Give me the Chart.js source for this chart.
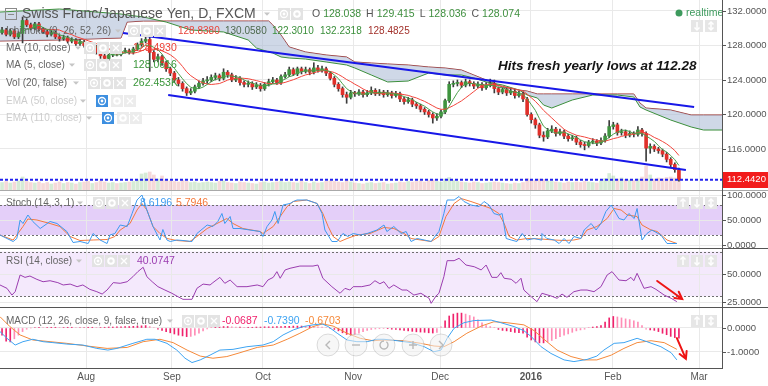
<!DOCTYPE html>
<html>
<head>
<meta charset="utf-8">
<script src="https://cdn.jsdelivr.net/npm/chart.js@4.4.1/dist/chart.umd.min.js"></script>
<style>
  html, body { margin: 0; padding: 0; background: #fff; }
  #wrap { position: relative; width: 768px; height: 386px; overflow: hidden; }
  #wrap canvas { position: absolute; left: 0; }
  .sep { position: absolute; left: 0; width: 768px; height: 1px; background: #555; }
</style>
</head>
<body>
<div id="wrap">
  <canvas id="c-main" width="768" height="190" style="top:0"></canvas>
  <canvas id="c-stoch" width="768" height="57" style="top:191px"></canvas>
  <canvas id="c-rsi" width="768" height="58" style="top:249px"></canvas>
  <canvas id="c-macd" width="768" height="78" style="top:308px"></canvas>
  <div class="sep" style="top:190px;background:#a9a9a9"></div>
  <div class="sep" style="top:248px"></div>
  <div class="sep" style="top:307px"></div>
  <div class="sep" style="top:368px;width:723px"></div>
  <div style="position:absolute;left:722px;top:0;width:1px;height:369px;background:#555"></div>
</div>
<script>
// CHF/JPY daily (FXCM), bar 0 = early July 2015, last bar = 23 Feb 2016
const monthTicks = [20.5, 41.4, 63.6, 85.6, 106.8, 128.9, 148.9, 169.9];
const monthLabels = ["Aug", "Sep", "Oct", "Nov", "Dec", "2016", "Feb", "Mar"];

const firstOpen = 129.5;
const closes = [
  129.8,129.3,129.7,129.0,129.4,130.9,130.4,130.0,130.5,129.9,
  129.6,129.3,129.5,129.0,128.8,128.9,128.5,128.6,128.2,128.4,
  128.0,127.6,127.9,127.2,126.8,126.5,126.9,127.2,127.0,127.3,
  127.4,127.2,127.6,128.1,128.5,128.7,127.2,126.4,126.7,126.0,
  125.3,124.8,124.0,123.6,123.0,122.5,122.7,123.2,123.6,123.9,
  124.0,124.3,124.5,124.2,124.9,124.6,124.0,124.2,123.7,123.5,
  123.6,123.2,123.4,123.0,123.5,123.8,124.0,123.7,124.4,124.6,
  125.2,124.7,125.3,125.0,125.2,124.9,125.4,125.1,125.3,124.8,
  124.2,123.5,123.0,122.3,122.0,122.5,122.4,122.6,122.3,122.5,
  122.8,122.4,122.6,122.3,122.5,122.2,122.4,121.8,121.5,121.7,
  121.2,121.0,120.6,120.3,120.0,119.6,119.8,120.3,121.6,123.5,
  123.6,123.7,123.4,123.8,123.6,123.3,123.5,123.1,123.4,123.6,
  123.0,122.6,122.9,122.5,122.7,122.2,122.4,121.8,120.0,119.4,
  118.8,117.6,117.4,118.1,118.3,117.8,118.0,117.5,117.2,117.3,
  116.8,116.5,116.4,116.8,116.9,116.7,117.0,117.5,118.6,118.8,
  117.9,118.0,117.6,117.8,117.7,118.2,117.8,116.1,116.3,116.0,
  115.8,115.4,114.8,114.2,113.6,112.442
];
const highs = [
  130.1,130.0,129.9,129.9,129.6,131.3,131.1,130.6,130.7,130.7,
  130.1,129.8,129.8,129.7,129.2,129.2,129.1,128.9,128.8,128.7,
  128.6,128.2,128.2,128.0,127.4,127.0,127.1,127.4,127.4,127.5,
  127.7,127.6,127.8,128.3,128.8,129.1,129.0,127.4,127.0,126.9,
  126.2,125.5,125.0,124.3,123.8,123.2,123.0,123.4,123.9,124.2,
  124.4,124.6,124.8,124.7,125.3,125.1,124.8,124.5,124.4,123.9,
  123.9,123.8,123.7,123.6,123.7,124.1,124.3,124.2,124.6,124.9,
  125.5,125.4,125.5,125.5,125.5,125.4,126.0,125.7,125.6,125.5,
  125.0,124.4,123.7,123.2,122.6,122.8,122.7,122.9,122.8,122.8,
  123.2,123.0,122.9,122.8,122.8,122.7,122.7,122.6,122.0,122.0,
  121.9,121.4,121.2,120.8,120.5,120.2,120.1,120.5,121.8,123.8,
  123.9,124.0,123.9,124.1,124.0,123.8,123.8,123.7,123.7,124.1,
  124.0,123.2,123.1,123.1,123.0,122.9,122.7,122.6,122.0,120.2,
  119.6,119.0,118.0,118.4,118.7,118.5,118.3,118.2,117.7,117.6,
  117.5,117.0,116.8,117.0,117.2,117.1,117.3,117.8,119.3,119.1,
  119.0,118.3,118.2,118.1,118.0,118.6,118.4,118.0,116.6,116.5,
  116.2,116.0,115.6,115.0,114.4,113.8
];
const lows = [
  129.3,129.1,129.1,128.8,128.8,128.3,130.2,129.8,129.8,129.7,
  129.4,129.0,129.1,128.8,128.5,128.6,128.3,128.3,128.0,128.0,
  127.8,127.3,127.4,127.0,126.5,126.2,126.3,126.7,126.8,126.8,
  127.1,127.0,127.0,127.4,127.9,128.3,125.0,126.1,126.1,125.7,
  125.0,124.5,123.7,123.3,122.7,122.2,122.3,122.5,123.0,123.4,
  123.6,123.8,124.0,123.9,124.0,124.3,123.8,123.8,123.4,123.2,
  123.2,122.9,123.0,122.7,122.8,123.3,123.6,123.5,123.5,124.2,
  124.4,124.5,124.5,124.7,124.8,124.6,124.7,124.9,124.9,124.5,
  124.0,123.2,122.7,122.0,121.3,121.8,122.1,122.2,122.0,122.1,
  122.3,122.2,122.2,122.0,122.1,121.9,122.0,121.5,121.2,121.3,
  120.9,120.7,120.3,120.0,119.7,119.0,119.3,119.6,120.1,121.4,
  123.2,123.3,123.1,123.2,123.3,123.0,123.1,122.8,122.9,123.2,
  122.5,122.3,122.4,122.2,122.3,121.9,122.0,121.5,119.8,119.0,
  118.4,117.3,116.9,117.2,117.9,117.5,117.6,117.2,116.9,117.0,
  116.5,116.2,115.9,116.2,116.6,116.4,116.5,116.8,117.3,118.3,
  117.6,117.6,117.3,117.4,117.4,117.5,117.5,114.6,115.5,115.7,
  115.5,115.1,114.5,113.9,113.3,112.28
];
// volume in thousands
const volumes = [
  150,170,140,160,180,260,170,150,140,160, 130,150,120,140,160,130,150,140,120,150,
  160,170,130,150,180,160,140,150,130,140, 150,160,170,200,320,340,360,300,220,280,
  200,180,170,160,190,170,150,160,140,150, 160,150,140,170,180,150,140,130,160,150,
  140,130,120,150,160,140,150,160,170,150, 160,150,140,170,150,130,160,140,150,170,
  180,170,160,150,190,160,140,130,120,140, 150,130,140,150,120,130,140,160,150,170,
  160,170,180,160,190,200,170,160,220,250, 190,170,160,150,140,160,150,130,140,150,
  160,150,140,130,120,140,130,150,230,200, 190,220,210,180,170,160,150,140,160,150,
  160,150,170,160,150,140,180,230,330,280, 220,240,210,200,190,220,260,480,300,220,
  240,230,250,260,240,260
];

// Ichimoku cloud (leading spans, already shifted 26 bars forward)
const cloudX = [-0.5,14,29,30.5,34.5,40,46,54,60,62,65,66,68,70,74,79,84,86,90,94,99,104,108,112,115,118,122,126,128,130.5,132,134,139,144,150,154,155.5,157,163,168,171,175.5];
const spanA = [131.88,132.23,131.65,131.54,131.30,130.72,129.80,129.57,128.64,127.71,127.25,127.13,126.67,126.55,126.43,126.09,125.74,125.39,124.58,123.77,123.88,124.81,124.58,124.58,124.23,123.77,123.42,122.84,122.26,121.91,121.10,120.75,121.68,122.26,122.26,122.03,120.87,120.52,119.36,118.55,118.20,118.20];
const spanB = [128.52,128.64,128.87,130.72,130.84,130.84,130.84,130.84,130.84,130.84,130.84,130.38,129.22,127.83,127.25,126.90,126.67,126.09,125.97,125.86,125.74,125.51,125.39,125.16,124.58,124.00,123.19,122.84,122.72,122.38,122.38,122.38,122.38,122.38,122.38,122.38,121.33,120.75,120.52,119.94,119.94,119.94];

const upperTrend = [[29.5, 129.45], [168.7, 120.87]];
const lowerTrend = [[40.5, 122.26], [166.7, 113.57]];
const lastPrice = 112.442;
const priceTicks = [116, 120, 124, 128, 132];

// Stochastic (14, 3, 1): [bar, value]
const stochK = [[-0.5,20],[1.2,13],[2.7,7],[3.6,13],[4.4,50],[5.1,43],[6.3,60],[7.5,47],[9.3,33],[11.7,47],[13.4,43],[15.8,27],[17.3,5],[19,7],[21,3],[22.2,23],[23.9,10],[25.6,3],[26.3,20],[27.5,23],[28.8,40],[30.5,37],[31.7,63],[32.9,90],[34.1,100],[35.3,70],[36.8,37],[38.5,10],[39.2,31],[40.2,10],[41,7],[42.6,10],[44.1,9],[46.3,7],[47.5,23],[50,40],[51.4,37],[52.6,47],[53.6,63],[54.3,43],[55.6,57],[56.3,33],[58,33],[60.4,30],[62.9,27],[63.6,17],[64.6,37],[65.8,50],[66.5,67],[67.3,43],[68.5,80],[70.2,83],[71,87],[71.9,90],[74.3,90],[76.8,83],[78,63],[78.7,30],[80.4,7],[81.7,7],[83.1,23],[84.3,17],[85.6,23],[87.3,20],[89,23],[91.4,30],[93.1,40],[93.8,27],[95.5,37],[97.3,23],[98.5,27],[99.7,7],[101.2,13],[102.9,10],[104.6,7],[105.8,20],[106.5,27],[107.7,63],[108.5,90],[110.2,90],[111.4,97],[112.6,87],[114.3,80],[116.3,77],[117.5,87],[118.7,80],[119.9,63],[121.1,60],[121.9,63],[122.9,13],[124.1,10],[125.5,7],[126.8,23],[128,10],[129.7,13],[131.4,10],[131.6,23],[132.8,13],[134.6,10],[135.8,3],[137,13],[138.2,3],[139.4,17],[141.1,13],[141.9,30],[143.6,43],[144.8,30],[146,43],[147.2,67],[148.5,80],[149.2,70],[150.4,53],[151.6,50],[152.8,63],[154.1,53],[154.8,73],[156,10],[157.2,23],[158.4,30],[160.6,20],[162.1,3],[163.8,3],[164.5,3]];
const stochD = [[-0.5,20],[2.7,10],[5.1,37],[6.3,52],[8.5,50],[11.7,43],[14.1,37],[16.6,17],[19,9],[22.2,10],[25.6,11],[27.5,17],[28.8,30],[31.2,43],[32.9,70],[34.1,83],[35.3,70],[36.8,37],[38.5,23],[40.2,13],[42.6,9],[45.8,7],[47.5,17],[50,33],[52.4,43],[54.8,53],[56.3,43],[58.7,33],[62.9,27],[63.6,23],[66.1,37],[67.8,57],[69.5,77],[71,87],[74.3,90],[76.8,83],[78.2,63],[79.5,37],[80.7,17],[82.4,7],[84.1,13],[86.5,20],[89.7,23],[93.1,35],[95.5,33],[98,23],[99.7,13],[102.1,10],[104.6,7],[106.5,17],[108.2,57],[110.2,83],[111.9,93],[114.3,87],[116.8,80],[119.2,73],[121.1,63],[122.4,43],[123.6,17],[125.5,10],[128,13],[131.4,12],[134.6,10],[137,9],[139.4,10],[141.1,13],[142.6,30],[145,37],[147.5,53],[149.2,73],[150.9,70],[152.4,60],[154.8,57],[156,40],[158.2,30],[159.7,27],[162.1,10],[164.5,3]];
const stochBand = [20, 80];

// RSI (14, close)
const rsi = [[-0.5,40.2],[1.2,37.2],[2.4,31.2],[3.2,34.2],[4.4,49.1],[5.6,47],[6.8,48.2],[8.5,45.2],[10,43.1],[11.7,44],[13.6,42.3],[14.9,40.2],[16.6,41],[18.3,38.7],[19.7,40.2],[21.4,36.3],[23.1,34.2],[24.4,32.1],[25.6,35.7],[27.1,42.3],[28.8,41.7],[30.5,43.1],[31.9,47.6],[33.1,52.1],[34.4,56],[35.3,47.6],[36.6,43.1],[38,38.7],[39.7,35.7],[41.4,32.8],[42.9,29.7],[44.1,27.4],[46.3,27.4],[47.5,37.2],[49,41],[50.7,40.2],[51.4,42.3],[53.1,47],[54.3,41.7],[55.6,44.6],[57.3,38.7],[59.7,38.7],[62.2,40.2],[63.6,38.7],[64.8,44.6],[66.1,47],[67,52.1],[67.8,46.2],[69,53.6],[70.2,55.1],[72.6,57.1],[75.8,57.1],[77,58],[78.2,46.2],[80.4,38.7],[82.4,32.8],[83.6,37.2],[84.8,35.7],[85.6,38.7],[87.7,38.7],[89.7,40.2],[90.9,44],[92.1,41.3],[93.1,43.1],[94.3,37.2],[95.5,40.2],[97.5,35.7],[98.7,35.7],[100.4,31.2],[102.1,32.8],[104.1,28.3],[104.6,23.8],[105.8,30.4],[106.5,32.8],[107.7,47.6],[108.5,61.9],[110.2,61.9],[111.4,64],[113.1,58],[115.1,56.5],[116.8,53.6],[118,58],[119.4,47],[120.7,47],[121.6,51.2],[122.4,46.2],[124.1,45.3],[125.3,41.7],[126.5,46.2],[127.2,35.7],[129,29.7],[130.4,25.3],[131.6,32.8],[133.8,30.4],[135.3,28.3],[136.5,32.1],[137.7,29.2],[139.4,34.2],[141.1,35.7],[142.6,35.7],[144.3,34.2],[146,38.7],[147.5,49.1],[148.7,52.1],[150.4,44.6],[152.1,44],[153.3,47],[154,44],[154.8,50.6],[156.5,37.2],[158.2,38.7],[159.4,36.3],[161.4,31.2],[163.1,28.3],[164.5,25.3]];
const rsiBand = [30, 70];
const rsiArrow = [[159.7, 43.8], [165.8, 27.7]];

// MACD (12, 26, close, 9)
const macdLine = [[-0.5,-0.15],[1.2,-0.43],[3.2,-0.71],[5.1,-0.57],[7.5,-0.47],[10,-0.57],[12.4,-0.61],[15.8,-0.67],[19.7,-0.71],[23.1,-0.85],[25.8,-0.92],[28,-0.85],[31.9,-0.64],[35.3,-0.47],[37.3,-0.47],[40.2,-0.64],[42.6,-0.92],[44.6,-1.26],[46.3,-1.44],[48.3,-1.33],[50.7,-1.13],[53.1,-0.92],[56.3,-0.89],[59.7,-0.78],[63.6,-0.71],[66.1,-0.57],[68.5,-0.29],[71,-0.08],[73.4,0.06],[75.8,0.13],[78,0.17],[79.5,0.06],[81.7,-0.22],[84.1,-0.5],[86.5,-0.57],[89,-0.57],[91.4,-0.47],[93.1,-0.47],[96.3,-0.53],[99.7,-0.61],[102.9,-0.78],[105.3,-0.99],[107,-0.92],[108.5,-0.43],[110.2,-0.01],[112.6,0.22],[115.1,0.31],[119.2,0.33],[121.6,0.22],[124.8,0.06],[127.2,-0.11],[129,-0.36],[131.4,-0.78],[133.8,-1.06],[137,-1.33],[139.4,-1.4],[142.6,-1.31],[145,-1.17],[146.7,-0.92],[149.2,-0.64],[151.6,-0.61],[154.8,-0.43],[157.2,-0.57],[160.6,-0.78],[163.1,-1.03],[164.5,-1.33]];
const macdSignal = [[-0.5,0.47],[1.9,0.06],[4.4,-0.29],[7.5,-0.5],[11.7,-0.57],[15.8,-0.64],[20.7,-0.75],[25.6,-0.85],[30.5,-0.81],[34.4,-0.57],[38.5,-0.47],[41.7,-0.61],[45.1,-0.92],[48.3,-1.17],[51.4,-1.26],[54.8,-1.19],[58,-1.03],[62.2,-0.81],[66.1,-0.71],[69.5,-0.47],[72.6,-0.22],[75.8,0.06],[78.2,0.17],[80.7,0.08],[84.1,-0.22],[87.3,-0.43],[90.4,-0.53],[93.1,-0.5],[98,-0.53],[102.1,-0.64],[105.3,-0.75],[107.7,-0.78],[110.2,-0.57],[113.3,-0.22],[116.8,0.08],[119.9,0.26],[123.1,0.22],[127.2,0.13],[129.7,-0.11],[132.1,-0.47],[135.3,-0.92],[138.7,-1.19],[141.9,-1.33],[145,-1.33],[148.5,-1.13],[151.6,-0.85],[154.8,-0.61],[158.2,-0.53],[161.4,-0.61],[164.5,-0.89]];
const macdHist = [
  -0.30,-0.55,-0.58,-0.45,-0.30,-0.15,-0.05,0.00,0.02,0.03,
  0.02,0.02,0.03,0.03,0.02,0.02,0.03,0.03,0.02,0.02,
  0.02,0.03,0.03,0.02,0.02,0.03,0.04,0.04,0.05,0.05,
  0.06,0.06,0.07,0.08,0.09,0.10,0.06,0.02,-0.05,-0.10,
  -0.15,-0.20,-0.25,-0.30,-0.33,-0.36,-0.35,-0.30,-0.22,-0.12,
  -0.04,0.02,0.04,0.05,0.06,0.06,0.05,0.04,0.04,0.03,
  0.03,0.03,0.04,0.04,0.05,0.05,0.05,0.06,0.06,0.07,
  0.07,0.08,0.08,0.08,0.07,0.07,0.06,0.05,0.04,0.02,
  -0.02,-0.06,-0.12,-0.20,-0.27,-0.30,-0.28,-0.22,-0.15,-0.10,
  -0.06,-0.04,-0.03,-0.02,-0.03,-0.05,-0.06,-0.08,-0.10,-0.12,
  -0.14,-0.16,-0.17,-0.18,-0.20,-0.21,-0.18,0.05,0.30,0.50,
  0.58,0.62,0.62,0.58,0.52,0.46,0.34,0.22,0.10,0.06,
  0.02,-0.06,-0.10,-0.12,-0.15,-0.18,-0.20,-0.22,-0.38,-0.50,
  -0.58,-0.62,-0.62,-0.58,-0.52,-0.45,-0.36,-0.30,-0.25,-0.18,
  -0.12,-0.08,-0.05,0.02,0.04,0.06,0.10,0.25,0.42,0.48,
  0.46,0.42,0.38,0.35,0.30,0.25,0.10,-0.05,-0.08,-0.10,
  -0.15,-0.22,-0.28,-0.35,-0.40,-0.42
];
const macdArrow = [[164.5, -0.42], [166.7, -1.29]];

// ---- layout / style ----
const X_MIN = -0.5, X_MAX = 175.5, AXIS_W = 46, PLOT_R = 722;
const GRID = "#e9e9e9";
const FONT = '"Liberation Sans", Arial, sans-serif';
const UP = "#3f943f", DOWN = "#e0302a";

const idx = closes.map((_, i) => i);
const opens = closes.map((c, i) => (i === 0 ? firstOpen : closes[i - 1]));
const isUp = closes.map((c, i) => c >= opens[i]);

function sma(src, n) {
  const out = [];
  for (let i = n - 1; i < src.length; i++) {
    let s = 0;
    for (let j = i - n + 1; j <= i; j++) s += src[j];
    out.push({ x: i, y: s / n });
  }
  return out;
}
const pairs = arr => arr.map(([x, y]) => ({ x, y }));

function paneOptions(yMin, yMax, yTicks, padBottom) {
  return {
    responsive: false,
    animation: false,
    events: [],
    layout: { padding: { left: 0, right: 0, top: 0, bottom: padBottom || 0 } },
    plugins: { legend: { display: false }, tooltip: { enabled: false } },
    scales: {
      x: {
        type: "linear", min: X_MIN, max: X_MAX, offset: false,
        grid: { color: GRID, drawTicks: false, offset: false },
        border: { display: false },
        ticks: { display: false },
        afterBuildTicks: s => { s.ticks = monthTicks.map(v => ({ value: v })); },
        afterFit: s => { s.height = 0; }
      },
      y: {
        position: "right", min: yMin, max: yMax,
        grid: { color: GRID, drawTicks: false },
        border: { display: false },
        ticks: { display: false },
        afterBuildTicks: s => { s.ticks = yTicks.map(v => ({ value: v })); },
        afterFit: s => { s.width = AXIS_W; }
      }
    }
  };
}

// ---- small drawing helpers (legend chrome) ----
function txt(ctx, s, x, y, color, size, weight) {
  ctx.font = (weight || "") + " " + size + "px " + FONT;
  ctx.fillStyle = color;
  ctx.textAlign = "left";
  ctx.textBaseline = "middle";
  ctx.fillText(s, x, y);
  return ctx.measureText(s).width;
}
function caret(ctx, x, y) {
  ctx.fillStyle = "#c6c6c6";
  ctx.beginPath();
  ctx.moveTo(x - 3, y - 1.5); ctx.lineTo(x + 3, y - 1.5); ctx.lineTo(x, y + 1.8);
  ctx.closePath(); ctx.fill();
}
function btn(ctx, x, y, kind, fill) {
  ctx.save();
  ctx.fillStyle = fill || "#e3e3e3";
  ctx.fillRect(x, y - 6, 12, 12);
  ctx.strokeStyle = "#fff"; ctx.fillStyle = "#fff"; ctx.lineWidth = 1.3;
  const cx = x + 6, cy = y;
  ctx.beginPath();
  if (kind === "eye") {
    ctx.arc(cx, cy, 3.5, 0, Math.PI * 2); ctx.stroke();
    ctx.beginPath(); ctx.arc(cx, cy, 1.4, 0, Math.PI * 2); ctx.fill();
  } else if (kind === "gear") {
    ctx.lineWidth = 2; ctx.arc(cx, cy, 2.8, 0, Math.PI * 2); ctx.stroke();
  } else if (kind === "x") {
    ctx.moveTo(cx - 3, cy - 3); ctx.lineTo(cx + 3, cy + 3);
    ctx.moveTo(cx + 3, cy - 3); ctx.lineTo(cx - 3, cy + 3); ctx.stroke();
  } else {
    ctx.lineWidth = 1.5;
    ctx.moveTo(cx, cy - 4); ctx.lineTo(cx, cy + 4); ctx.stroke();
    ctx.beginPath();
    if (kind === "up" || kind === "updown") { ctx.moveTo(cx - 2.5, cy - 1.5); ctx.lineTo(cx, cy - 4); ctx.lineTo(cx + 2.5, cy - 1.5); }
    if (kind === "down" || kind === "updown") { ctx.moveTo(cx - 2.5, cy + 1.5); ctx.lineTo(cx, cy + 4); ctx.lineTo(cx + 2.5, cy + 1.5); }
    ctx.stroke();
  }
  ctx.restore();
}
function redArrow(ctx, x1, y1, x2, y2) {
  const a = Math.atan2(y2 - y1, x2 - x1), L = 8, w = 0.5;
  ctx.save();
  ctx.strokeStyle = "#ee1414"; ctx.lineWidth = 2; ctx.lineCap = "round";
  ctx.beginPath();
  ctx.moveTo(x1, y1); ctx.lineTo(x2, y2);
  ctx.moveTo(x2 - L * Math.cos(a - w), y2 - L * Math.sin(a - w));
  ctx.lineTo(x2, y2);
  ctx.lineTo(x2 - L * Math.cos(a + w), y2 - L * Math.sin(a + w));
  ctx.stroke();
  ctx.restore();
}

// y-axis labels and tick marks, drawn by hand so the plot keeps full height
function axisLabels(values) {
  return {
    id: "axisLabels",
    afterDraw(chart) {
      const { ctx } = chart, y = chart.scales.y;
      ctx.save();
      ctx.strokeStyle = "#555"; ctx.lineWidth = 1;
      values.forEach(v => {
        const py = Math.round(y.getPixelForValue(v)) + 0.5;
        ctx.beginPath(); ctx.moveTo(PLOT_R, py); ctx.lineTo(PLOT_R + 4, py); ctx.stroke();
        txt(ctx, v.toFixed(4), 727, py, "#555", 9.5);
      });
      ctx.restore();
    }
  };
}
function bandPlugin(levels, color) {
  return {
    id: "band",
    beforeDraw(chart) {
      const { ctx, chartArea: a } = chart, y = chart.scales.y;
      const y1 = y.getPixelForValue(levels[1]), y0 = y.getPixelForValue(levels[0]);
      ctx.save();
      ctx.fillStyle = color;
      ctx.fillRect(a.left, y1, a.right - a.left, y0 - y1);
      ctx.restore();
    },
    beforeDatasetsDraw(chart) {
      const { ctx, chartArea: a } = chart, y = chart.scales.y;
      ctx.save();
      ctx.strokeStyle = "#6f6f6f"; ctx.lineWidth = 1; ctx.setLineDash([2, 2]);
      levels.forEach(v => {
        const py = Math.round(y.getPixelForValue(v)) + 0.5;
        ctx.beginPath(); ctx.moveTo(a.left, py); ctx.lineTo(a.right, py); ctx.stroke();
      });
      ctx.restore();
    }
  };
}

// ---- main price pane ----
const mainChrome = {
  id: "mainChrome",
  afterDraw(chart) {
    const ctx = chart.ctx, y = chart.scales.y;
    ctx.save();
    // title
    ctx.strokeStyle = "#8a8a8a"; ctx.lineWidth = 1;
    ctx.strokeRect(5.5, 8.5, 11, 11);
    ctx.beginPath(); ctx.moveTo(8, 14.5); ctx.lineTo(14, 14.5); ctx.stroke();
    txt(ctx, "Swiss Franc/Japanese Yen, D, FXCM", 22, 14, "#555", 14);
    caret(ctx, 267, 14);
    btn(ctx, 278, 14, "eye"); btn(ctx, 291, 14, "gear");
    let x = 312;
    [["O", "128.038"], ["H", "129.415"], ["L", "128.036"], ["C", "128.074"]].forEach(([k, v]) => {
      x += txt(ctx, k, x, 14, "#555", 10.5) + 3;
      x += txt(ctx, v, x, 14, "#3f8f3f", 10.5) + 5;
    });
    // indicator rows
    txt(ctx, "Ichimoku (9, 26, 52, 26)", 6, 31, "#666", 10);
    caret(ctx, 118, 31);
    btn(ctx, 128, 31, "eye"); btn(ctx, 141, 31, "gear"); btn(ctx, 154, 31, "x");
    [["128.8380", "#e8453c", 178], ["130.0580", "#4f6a4f", 225], ["122.3010", "#3b8f3b", 272],
     ["132.2318", "#3b8f3b", 320], ["128.4825", "#a3332d", 368]].forEach(([s, c, px]) => txt(ctx, s, px, 31, c, 10));

    const rows = [
      ["MA (10, close)", 48, 78, 84, "128.4930", "#ee4036"],
      ["MA (5, close)", 65, 72, 84, "128.0616", "#3a963a"],
      ["Vol (20, false)", 83, 76, 88, "262.453K", "#3a963a"]
    ];
    rows.forEach(([lab, ry, cx, bx, val, col]) => {
      txt(ctx, lab, 6, ry, "#666", 10);
      caret(ctx, cx, ry);
      btn(ctx, bx, ry, "eye"); btn(ctx, bx + 13, ry, "gear"); btn(ctx, bx + 26, ry, "x");
      txt(ctx, val, 133, ry, col, 10.5);
    });
    [["EMA (50, close)", 101, 83, 96], ["EMA (110, close)", 118, 89, 102]].forEach(([lab, ry, cx, bx]) => {
      txt(ctx, lab, 6, ry, "#cdcdcd", 10);
      caret(ctx, cx, ry);
      btn(ctx, bx, ry, "eye", "#3d8fe0");
      btn(ctx, bx + 15, ry, "gear", "#ececec"); btn(ctx, bx + 28, ry, "x", "#ececec");
    });

    // realtime flag
    ctx.fillStyle = "#3d9a5d";
    ctx.beginPath(); ctx.arc(679, 13, 3.5, 0, Math.PI * 2); ctx.fill();
    txt(ctx, "realtime", 686, 13, "#3d9a5d", 10.5);
    btn(ctx, 691, 26, "down", "#e6e6e6"); btn(ctx, 705, 26, "updown", "#e6e6e6");

    // annotation
    ctx.font = "italic bold 13.5px " + FONT;
    ctx.fillStyle = "#151515"; ctx.textBaseline = "alphabetic";
    ctx.fillText("Hits fresh yearly lows at 112.28", 498, 70);

    // last price tag
    const py = y.getPixelForValue(lastPrice);
    ctx.fillStyle = "#f21b1b";
    ctx.fillRect(PLOT_R, Math.round(py) - 8, 46, 16);
    txt(ctx, lastPrice.toFixed(4), 727, py, "#fff", 9.5);
    ctx.restore();
  }
};

const mainOpts = paneOptions(111.246, 133.275, priceTicks);
mainOpts.scales.vol = { type: "linear", display: false, min: 0, max: 3800 };

new Chart(document.getElementById("c-main"), {
  type: "bar",
  data: {
    datasets: [
      { type: "line", label: "Lead B", data: cloudX.map((x, i) => ({ x, y: spanB[i] })),
        borderColor: "#9b2f2b", borderWidth: 1, pointRadius: 0, fill: false, order: 11 },
      { type: "line", label: "Lead A", data: cloudX.map((x, i) => ({ x, y: spanA[i] })),
        borderColor: "#3c8f3c", borderWidth: 1, pointRadius: 0, fill: "-1",
        backgroundColor: "rgba(168,184,212,0.55)", order: 10 },
      { label: "Volume", yAxisID: "vol", data: idx.map(i => ({ x: i, y: volumes[i] })),
        backgroundColor: idx.map(i => (isUp[i] ? "rgba(120,190,120,0.3)" : "rgba(222,130,130,0.3)")),
        barThickness: 3, grouped: false, order: 9 },
      { label: "Wick", data: idx.map(i => ({ x: i, y: [lows[i], highs[i]] })),
        backgroundColor: "#3c3c3c", barThickness: 1, grouped: false, order: 7 },
      { label: "Body", data: idx.map(i => ({ x: i, y: [opens[i], closes[i]] })),
        backgroundColor: idx.map(i => (isUp[i] ? UP : DOWN)),
        barThickness: 3, minBarLength: 1, grouped: false, order: 6 },
      { type: "line", label: "Last", data: [{ x: X_MIN, y: lastPrice }, { x: X_MAX, y: lastPrice }],
        borderColor: "#2222ee", borderWidth: 2, borderDash: [3, 2], pointRadius: 0, order: 5 },
      { type: "line", label: "MA 10", data: sma(closes, 10),
        borderColor: "#f2463d", borderWidth: 1, pointRadius: 0, order: 3 },
      { type: "line", label: "MA 5", data: sma(closes, 5),
        borderColor: "#4a9e4a", borderWidth: 1, pointRadius: 0, order: 2 },
      { type: "line", label: "Upper channel", data: pairs(upperTrend),
        borderColor: "#1818e8", borderWidth: 2, pointRadius: 0, order: 1 },
      { type: "line", label: "Lower channel", data: pairs(lowerTrend),
        borderColor: "#1818e8", borderWidth: 2, pointRadius: 0, order: 1 }
    ]
  },
  options: mainOpts,
  plugins: [axisLabels(priceTicks), mainChrome]
});

// ---- stochastic pane ----
new Chart(document.getElementById("c-stoch"), {
  type: "line",
  data: {
    datasets: [
      { label: "%K", data: pairs(stochK), borderColor: "#3d9af0", borderWidth: 1, pointRadius: 0 },
      { label: "%D", data: pairs(stochD), borderColor: "#f5793b", borderWidth: 1, pointRadius: 0 }
    ]
  },
  options: paneOptions(-6, 108, [0, 50, 100]),
  plugins: [bandPlugin(stochBand, "#e4cff9"), axisLabels([100, 50, 0]), {
    id: "stochChrome",
    afterDraw(chart) {
      const ctx = chart.ctx;
      txt(ctx, "Stoch (14, 3, 1)", 6, 12, "#666", 10);
      caret(ctx, 80, 12);
      btn(ctx, 93, 12, "eye"); btn(ctx, 106, 12, "gear"); btn(ctx, 119, 12, "x");
      txt(ctx, "8.6196", 140, 12, "#3d9af0", 10.5);
      txt(ctx, "5.7946", 176, 12, "#f5793b", 10.5);
      btn(ctx, 677, 12, "up", "#e6e6e6"); btn(ctx, 691, 12, "down", "#e6e6e6"); btn(ctx, 705, 12, "updown", "#e6e6e6");
    }
  }]
});

// ---- RSI pane ----
new Chart(document.getElementById("c-rsi"), {
  type: "line",
  data: {
    datasets: [
      { label: "RSI", data: pairs(rsi), borderColor: "#9b3db0", borderWidth: 1, pointRadius: 0 }
    ]
  },
  options: paneOptions(20.54, 72.32, [25, 50]),
  plugins: [bandPlugin(rsiBand, "#f4e9fc"), axisLabels([50, 25]), {
    id: "rsiChrome",
    afterDraw(chart) {
      const { ctx, scales: { x, y } } = chart;
      txt(ctx, "RSI (14, close)", 6, 12, "#666", 10);
      caret(ctx, 79, 12);
      btn(ctx, 92, 12, "eye"); btn(ctx, 105, 12, "gear"); btn(ctx, 118, 12, "x");
      txt(ctx, "40.0747", 137, 12, "#9b3db0", 10.5);
      btn(ctx, 677, 12, "up", "#e6e6e6"); btn(ctx, 691, 12, "down", "#e6e6e6"); btn(ctx, 705, 12, "updown", "#e6e6e6");
      redArrow(ctx, x.getPixelForValue(rsiArrow[0][0]), y.getPixelForValue(rsiArrow[0][1]),
        x.getPixelForValue(rsiArrow[1][0]), y.getPixelForValue(rsiArrow[1][1]));
    }
  }]
});

// ---- MACD pane (carries the date axis) ----
const histColors = macdHist.map((h, i) =>
  Math.abs(h) >= Math.abs(i ? macdHist[i - 1] : 0) ? "#f0226c" : "#ff8db6");

new Chart(document.getElementById("c-macd"), {
  type: "bar",
  data: {
    datasets: [
      { type: "line", label: "MACD", data: pairs(macdLine), borderColor: "#3ea4f2", borderWidth: 1, pointRadius: 0, order: 1 },
      { type: "line", label: "Signal", data: pairs(macdSignal), borderColor: "#f5893a", borderWidth: 1, pointRadius: 0, order: 2 },
      { label: "Histogram", data: macdHist.map((h, i) => ({ x: i, y: h })),
        backgroundColor: histColors, barThickness: 1, grouped: false, order: 3 }
    ]
  },
  options: paneOptions(-1.667, 0.833, [-1, 0], 18),
  plugins: [axisLabels([0, -1]), {
    id: "macdChrome",
    afterDraw(chart) {
      const { ctx, chartArea: a, scales: { x, y } } = chart;
      txt(ctx, "MACD (12, 26, close, 9, false, true)", 6, 13, "#666", 10);
      caret(ctx, 170, 13);
      btn(ctx, 182, 13, "eye"); btn(ctx, 195, 13, "gear"); btn(ctx, 208, 13, "x");
      txt(ctx, "-0.0687", 222, 13, "#f0226c", 10.5);
      txt(ctx, "-0.7390", 264, 13, "#3ea4f2", 10.5);
      txt(ctx, "-0.6703", 305, 13, "#f5893a", 10.5);
      btn(ctx, 691, 13, "up", "#e6e6e6"); btn(ctx, 705, 13, "updown", "#e6e6e6");

      redArrow(ctx, x.getPixelForValue(macdArrow[0][0]), y.getPixelForValue(macdArrow[0][1]),
        x.getPixelForValue(macdArrow[1][0]), y.getPixelForValue(macdArrow[1][1]));

      // navigation buttons
      ctx.save();
      [328, 356, 384, 413, 441].forEach((cx, k) => {
        ctx.beginPath(); ctx.arc(cx, 37, 11, 0, Math.PI * 2);
        ctx.fillStyle = "rgba(240,240,240,0.55)"; ctx.fill();
        ctx.strokeStyle = "rgba(0,0,0,0.13)"; ctx.lineWidth = 1; ctx.stroke();
        ctx.strokeStyle = "#b9b9b9"; ctx.lineWidth = 1.4; ctx.beginPath();
        if (k === 0) { ctx.moveTo(cx + 2, 33); ctx.lineTo(cx - 2, 37); ctx.lineTo(cx + 2, 41); }
        if (k === 4) { ctx.moveTo(cx - 2, 33); ctx.lineTo(cx + 2, 37); ctx.lineTo(cx - 2, 41); }
        if (k === 1 || k === 3) { ctx.moveTo(cx - 4, 37); ctx.lineTo(cx + 4, 37); }
        if (k === 3) { ctx.moveTo(cx, 33); ctx.lineTo(cx, 41); }
        if (k === 2) { ctx.arc(cx, 37, 4, -Math.PI * 0.3, Math.PI * 1.5); }
        ctx.stroke();
      });
      ctx.restore();

      // date labels
      monthTicks.forEach((v, i) => {
        ctx.font = (i === 5 ? "bold " : "") + "10px " + FONT;
        ctx.fillStyle = "#555"; ctx.textAlign = "center"; ctx.textBaseline = "middle";
        ctx.fillText(monthLabels[i], x.getPixelForValue(v), a.bottom + 9);
      });
    }
  }]
});
</script>
</body>
</html>
